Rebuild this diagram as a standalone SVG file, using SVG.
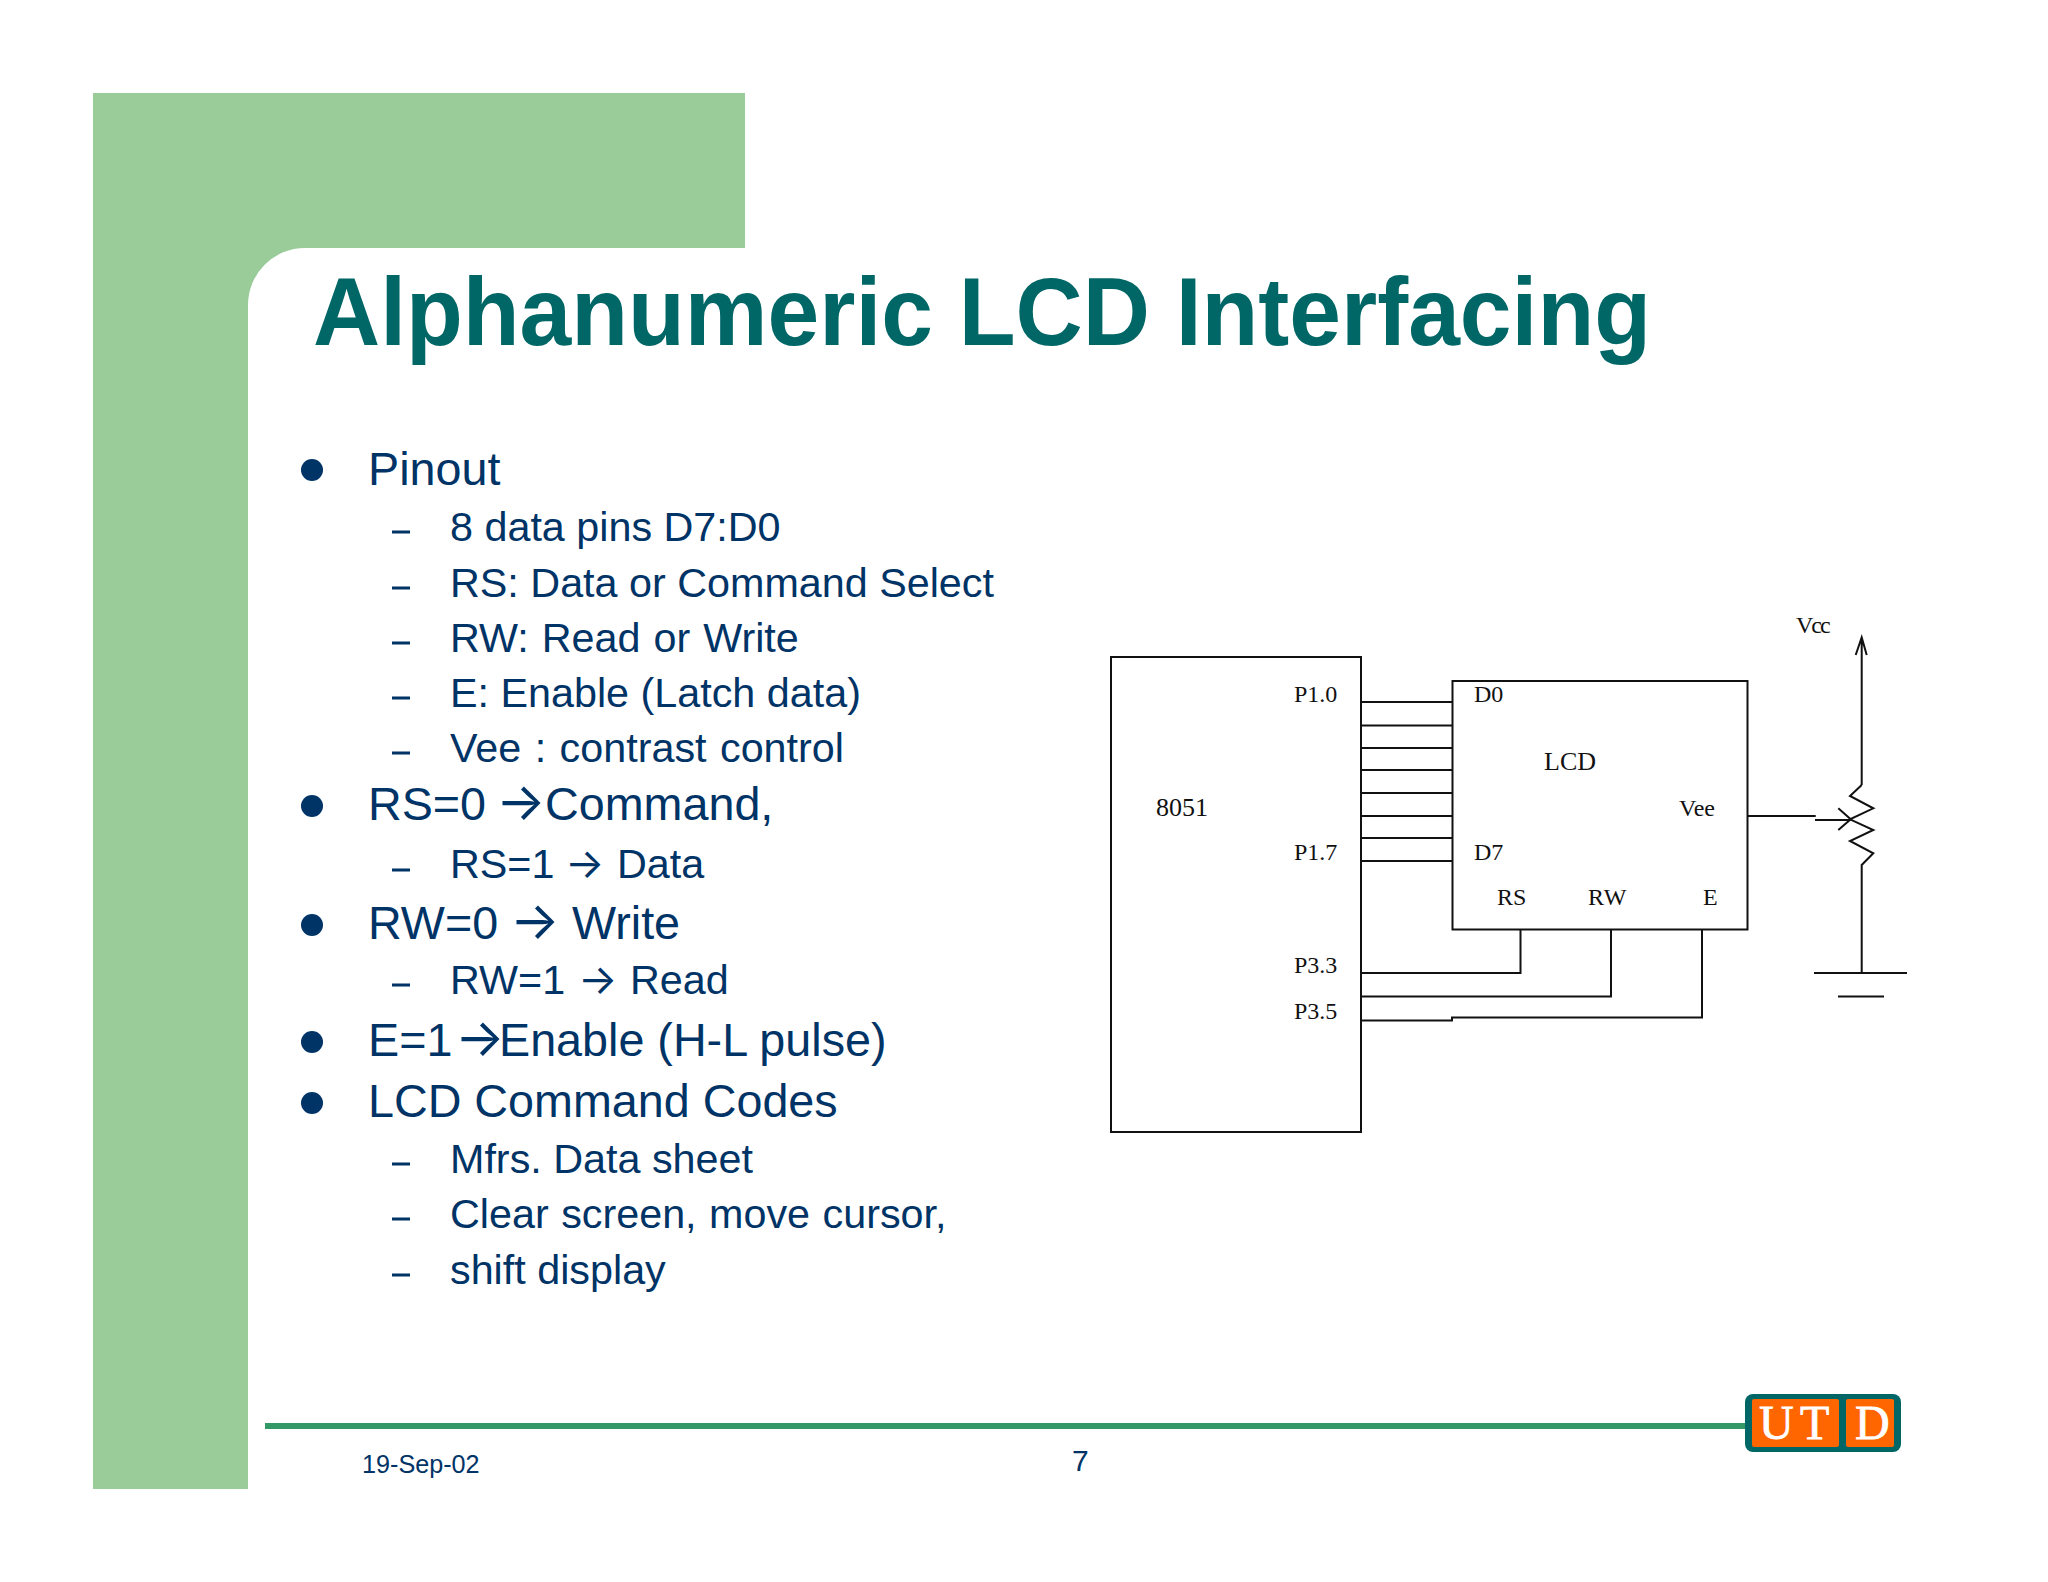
<svg xmlns="http://www.w3.org/2000/svg" width="2048" height="1582" viewBox="0 0 2048 1582">
<style>
.title{font:bold 96px "Liberation Sans",Arial,sans-serif;fill:#006666}
.l1{font:46.700px "Liberation Sans",Arial,sans-serif;fill:#003366}
.l2{font:41.300px "Liberation Sans",Arial,sans-serif;fill:#003366}
.ar{font-family:Inter,sans-serif}
.arb{font-family:Inter,sans-serif;font-size:52px}
.bul{fill:#003366}
.dash{stroke:#003366;stroke-width:3;fill:none}
.w{fill:none;stroke:#111;stroke-width:2}
.box{fill:#fff;stroke:#111;stroke-width:2}
.t{font:24px "Liberation Serif","Times New Roman",serif;fill:#111}
.tb{font:26px "Liberation Serif","Times New Roman",serif;fill:#111}
.logo{font:48px "Liberation Serif","Times New Roman",serif;fill:#fff;stroke:#fff;stroke-width:.8}
</style>
<rect width="2048" height="1582" fill="#fff"/>
<path id="frame" d="M93 93H745V248H305A57 57 0 0 0 248 305V1489H93Z" fill="#99cc99"/>
<text class="title" x="313" y="344.500" textLength="1338" lengthAdjust="spacingAndGlyphs">Alphanumeric LCD Interfacing</text>

<g id="bullets">
<circle class="bul" cx="312" cy="470" r="11"/>
<circle class="bul" cx="312" cy="806" r="11"/>
<circle class="bul" cx="312" cy="925" r="11"/>
<circle class="bul" cx="312" cy="1042" r="11"/>
<circle class="bul" cx="312" cy="1103" r="11"/>
<path class="dash" d="M392 532H410M392 588H410M392 643H410M392 698H410M392 753H410M392 870H410M392 985H410M392 1164H410M392 1219H410M392 1275H410"/>
</g>
<g id="body">
<text class="l1" x="368" y="485">Pinout</text>
<text class="l2" x="450" y="541">8 data pins D7:D0</text>
<text class="l2" x="450" y="597">RS: Data or Command Select</text>
<text class="l2" x="450" y="652" word-spacing="1.500">RW: Read or Write</text>
<text class="l2" x="450" y="707">E: Enable (Latch data)</text>
<text class="l2" x="450" y="762" word-spacing="2">Vee : contrast control</text>
<text class="l1" x="368" y="820">RS=0 <tspan class="arb" x="496">→</tspan><tspan x="545">Command,</tspan></text>
<text class="l2" x="450" y="878">RS=1 <tspan class="ar" x="565">→</tspan><tspan x="617">Data</tspan></text>
<text class="l1" x="368" y="939">RW=0 <tspan class="arb" x="510">→</tspan><tspan x="572">Write</tspan></text>
<text class="l2" x="450" y="994">RW=1 <tspan class="ar" x="578">→</tspan><tspan x="630">Read</tspan></text>
<text class="l1" x="368" y="1056">E=1<tspan class="arb" x="455">→</tspan><tspan x="499">Enable (H-L pulse)</tspan></text>
<text class="l1" x="368" y="1117">LCD Command Codes</text>
<text class="l2" x="450" y="1173">Mfrs. Data sheet</text>
<text class="l2" x="450" y="1228" word-spacing="1">Clear screen, move cursor,</text>
<text class="l2" x="450" y="1284">shift display</text>
</g>

<g id="connectors">
<path class="w" d="M1361 702H1452M1361 725.500H1452M1361 748H1452M1361 770H1452M1361 793H1452M1361 816H1452M1361 838H1452M1361 861H1452"/>
<path class="w" d="M1361 973H1520.500V930"/>
<path class="w" d="M1361 996.500H1611V930"/>
<path class="w" d="M1361 1020.500H1452V1017.500H1702V930"/>
<path class="w" d="M1747 816H1815.700"/>
<path class="w" d="M1861.700 785V637.300M1855.700 655L1861.700 637.300L1866.700 655"/>
<path class="w" d="M1861.700 785L1850 796L1873.300 808.300L1850 819.300L1873.300 830L1850 841L1873.300 853.300L1861.700 865V973"/>
<path class="w" d="M1815 820H1850.700M1838.300 808.300L1850.700 819.300L1838.300 830"/>
</g>
<g id="ground">
<path class="w" d="M1814 973H1907M1838 996.500H1884"/>
</g>
<g id="mcu">
<rect class="box" x="1111" y="657" width="250" height="475"/>
<text class="tb" x="1156" y="816">8051</text>
<text class="t" x="1294" y="702">P1.0</text>
<text class="t" x="1294" y="860">P1.7</text>
<text class="t" x="1294" y="973">P3.3</text>
<text class="t" x="1294" y="1019">P3.5</text>
</g>
<g id="lcd">
<rect class="box" x="1452.500" y="681" width="295" height="248.500"/>
<text class="tb" x="1544" y="770">LCD</text>
<text class="t" x="1474" y="702">D0</text>
<text class="t" x="1474" y="860">D7</text>
<text class="t" x="1679" y="816">Vee</text>
<text class="t" x="1497" y="905">RS</text>
<text class="t" x="1588" y="905" letter-spacing="1">RW</text>
<text class="t" x="1703" y="905">E</text>
</g>
<text class="t" x="1796" y="633" letter-spacing="-2">Vcc</text>

<g id="footer">
<path d="M265 1426H1750" stroke="#339966" stroke-width="6" fill="none"/>
<text x="362" y="1473" style="font:25.200px 'Liberation Sans',Arial,sans-serif;fill:#003366">19-Sep-02</text>
<text x="1072" y="1471" style="font:30px 'Liberation Sans',Arial,sans-serif;fill:#003366">7</text>
</g>
<g id="utd-logo">
<rect x="1745" y="1394" width="156" height="58" rx="8" fill="#006666"/>
<rect x="1752" y="1399" width="87" height="48" rx="2" fill="#ff6600"/>
<rect x="1846" y="1399" width="48" height="48" rx="2" fill="#ff6600"/>
<text class="logo" x="1759" y="1439">U</text>
<text class="logo" x="1800" y="1439">T</text>
<text class="logo" x="1855" y="1439">D</text>
</g>
</svg>
